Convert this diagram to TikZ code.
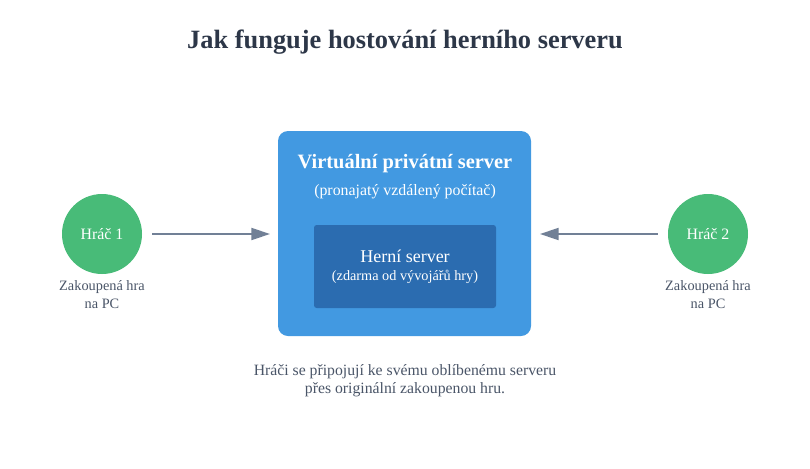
\documentclass[tikz,border=0pt]{standalone}
\usepackage{fontspec}
\setmainfont{Liberation Serif}
\usepackage{tikz}
\usetikzlibrary{positioning,calc,arrows.meta}

\definecolor{navy}{HTML}{2D3748}
\definecolor{vpsblue}{HTML}{4299E1}
\definecolor{gsblue}{HTML}{2B6CB0}
\definecolor{hracgreen}{HTML}{48BB78}
\definecolor{arrowgray}{HTML}{718096}
\definecolor{txtgray}{HTML}{4A5568}

\newcommand{\fs}[2]{\fontsize{#1}{#2}\selectfont}

\tikzset{
	hrac/.style={circle, fill=hracgreen, minimum size=60pt, inner sep=0pt, text=white, font=\fs{11.9}{14}},
	popis/.style={align=center, text=txtgray, font=\fs{10.75}{13.5}},
	sipka/.style={-{Triangle[length=14pt,width=9pt]}, draw=arrowgray, line width=1.5pt},
}

\begin{document}
\begin{tikzpicture}[x=0.75pt, y=-0.75pt]
	\useasboundingbox[fill=white] (0,0) rectangle (810,468);
	
	\node[font=\bfseries\fs{19.8}{24}, text=navy] (nadpis) at (405,42) {Jak funguje hostování herního serveru};
	
	\fill[vpsblue, rounded corners=7.5pt] (278,131) rectangle (531,336);
	\coordinate (vpsL) at (270,234);
	\coordinate (vpsR) at (540,234);
	\node[font=\bfseries\fs{15.3}{18}, text=white] (vps) at (405,164) {Virtuální privátní server};
	\node[font=\fs{11.9}{14}, text=white] (vpssub) at (405,192) {(pronajatý vzdálený počítač)};
	
	\fill[gsblue, rounded corners=2pt] (314,225) rectangle (496,308);
	\node[font=\fs{13.5}{16}, text=white] (gs) at (405,256) {Herní server};
	\node[font=\fs{10.7}{13}, text=white] (gssub) at (405,277) {(zdarma od vývojářů hry)};
	
	\node[hrac] (h1) at (102,234) {Hráč 1};
	\node[hrac] (h2) at (708,234) {Hráč 2};
	
	\node[popis] (p1) at (102,295) {Zakoupená hra\\na PC};
	\node[popis] (p2) at (708,295) {Zakoupená hra\\na PC};
	
	\draw[sipka] ($(h1.east)+(10,0)$) -- (vpsL);
	\draw[sipka] ($(h2.west)+(-10,0)$) -- (vpsR);
	
	\node[popis, font=\fs{11.8}{13.5}] (info) at (405,381) {Hráči se připojují ke svému oblíbenému serveru\\přes originální zakoupenou hru.};
\end{tikzpicture}
\end{document}
